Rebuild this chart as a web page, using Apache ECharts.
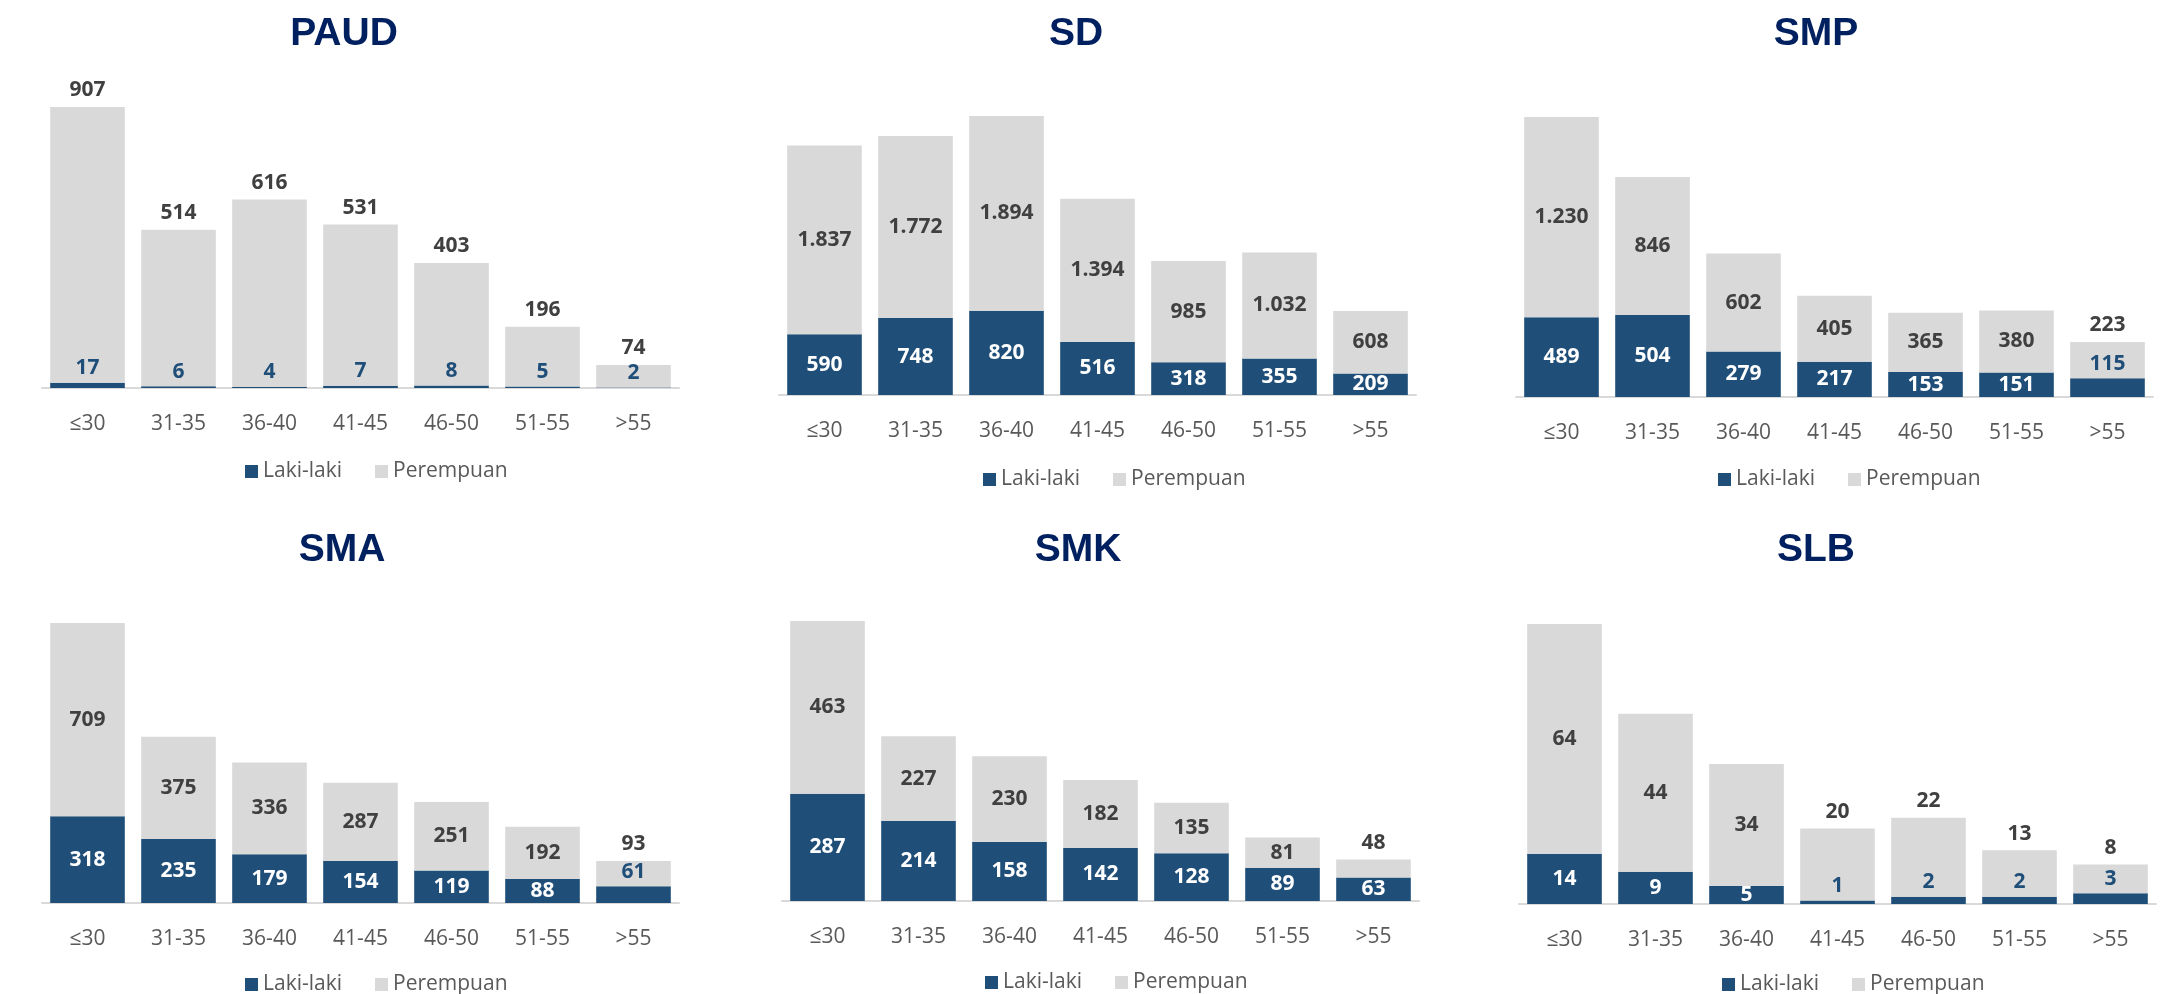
<!DOCTYPE html>
<html>
<head>
<meta charset="utf-8">
<script src="https://cdn.jsdelivr.net/npm/echarts@6/dist/echarts.min.js"></script>
<style>
  html, body { margin: 0; padding: 0; background: #fff; }
  #main { width: 2184px; height: 994px; }
</style>
</head>
<body>
<div id="main"></div>
<script>
const categories = ["≤30", "31-35", "36-40", "41-45", "46-50", "51-55", ">55"];
const seriesNames = ["Laki-laki", "Perempuan"];

const paudLaki = [17, 6, 4, 7, 8, 5, 2];
const paudPerempuan = [907, 514, 616, 531, 403, 196, 74];
const sdLaki = [590, 748, 820, 516, 318, 355, 209];
const sdPerempuan = [1837, 1772, 1894, 1394, 985, 1032, 608];
const smpLaki = [489, 504, 279, 217, 153, 151, 115];
const smpPerempuan = [1230, 846, 602, 405, 365, 380, 223];
const smaLaki = [318, 235, 179, 154, 119, 88, 61];
const smaPerempuan = [709, 375, 336, 287, 251, 192, 93];
const smkLaki = [287, 214, 158, 142, 128, 89, 63];
const smkPerempuan = [463, 227, 230, 182, 135, 81, 48];
const slbLaki = [14, 9, 5, 1, 2, 2, 3];
const slbPerempuan = [64, 44, 34, 20, 22, 13, 8];

// layout of the six panels (pixels), and which labels sit outside their bar
const panels = [
  { title: "PAUD", laki: paudLaki, per: paudPerempuan, left: 42, top: 107, bottom: 388, titleX: 339, titleY: 10, legendX: 240, legendY: 456, lakiOut: [0, 1, 2, 3, 4, 5, 6], perOut: [0, 1, 2, 3, 4, 5, 6] },
  { title: "SD", laki: sdLaki, per: sdPerempuan, left: 779, top: 116, bottom: 395, titleX: 1071, titleY: 10, legendX: 978, legendY: 464, lakiOut: [], perOut: [] },
  { title: "SMP", laki: smpLaki, per: smpPerempuan, left: 1516, top: 117, bottom: 397, titleX: 1811, titleY: 10, legendX: 1713, legendY: 464, lakiOut: [6], perOut: [6] },
  { title: "SMA", laki: smaLaki, per: smaPerempuan, left: 42, top: 623, bottom: 903, titleX: 337, titleY: 526, legendX: 240, legendY: 969, lakiOut: [6], perOut: [6] },
  { title: "SMK", laki: smkLaki, per: smkPerempuan, left: 782, top: 621, bottom: 901, titleX: 1073, titleY: 526, legendX: 980, legendY: 967, lakiOut: [], perOut: [6] },
  { title: "SLB", laki: slbLaki, per: slbPerempuan, left: 1519, top: 624, bottom: 904, titleX: 1811, titleY: 526, legendX: 1717, legendY: 969, lakiOut: [3, 4, 5, 6], perOut: [3, 4, 5, 6] },
];

const BLUE = "#1F4E79";
const GREY = "#D9D9D9";
const FONT = "'Open Sans', 'Noto Sans', sans-serif";

function fmt(v) {
  return String(v).replace(/\B(?=(\d{3})+(?!\d))/g, ".");
}

const option = {
  backgroundColor: "#fff",
  animation: false,
  title: [],
  legend: [],
  grid: [],
  xAxis: [],
  yAxis: [],
  series: [],
};

panels.forEach((p, k) => {
  const maxTotal = Math.max(...p.laki.map((v, i) => v + p.per[i]));
  option.title.push({
    text: p.title,
    left: p.titleX,
    top: p.titleY,
    textAlign: "center",
    textStyle: { fontFamily: "'Liberation Sans', Arial, sans-serif", fontSize: 39, fontWeight: "bold", color: "#002060" },
  });
  option.legend.push({
    data: seriesNames,
    left: p.legendX,
    top: p.legendY,
    itemWidth: 13,
    itemHeight: 13,
    itemGap: 33,
    icon: "rect",
    textStyle: { fontFamily: FONT, fontSize: 21, color: "#595959" },
    selectedMode: false,
  });
  option.grid.push({ left: p.left, top: p.top, width: 637, height: p.bottom - p.top });
  option.xAxis.push({
    type: "category",
    gridIndex: k,
    data: categories,
    axisTick: { show: false },
    axisLine: { lineStyle: { color: GREY, width: 2 } },
    axisLabel: { margin: 26, fontFamily: FONT, fontSize: 21, color: "#595959" },
  });
  option.yAxis.push({
    type: "value",
    gridIndex: k,
    min: 0,
    max: maxTotal,
    show: false,
    splitLine: { show: false },
  });
  option.series.push({
    name: seriesNames[0],
    type: "bar",
    stack: "s" + k,
    xAxisIndex: k,
    yAxisIndex: k,
    barCategoryGap: "18%",
    itemStyle: { color: BLUE },
    label: {
      show: true,
      position: "inside",
      fontFamily: FONT,
      fontSize: 21,
      fontWeight: "bold",
      color: "#fff",
      formatter: (d) => fmt(d.value),
    },
    data: p.laki.map((v, i) =>
      p.lakiOut.includes(i)
        ? { value: v, label: { position: "top", distance: 4, color: BLUE } }
        : v
    ),
  });
  option.series.push({
    name: seriesNames[1],
    type: "bar",
    stack: "s" + k,
    xAxisIndex: k,
    yAxisIndex: k,
    barCategoryGap: "18%",
    itemStyle: { color: GREY },
    label: {
      show: true,
      position: "inside",
      fontFamily: FONT,
      fontSize: 21,
      fontWeight: "bold",
      color: "#404040",
      formatter: (d) => fmt(d.value),
    },
    data: p.per.map((v, i) =>
      p.perOut.includes(i)
        ? { value: v, label: { position: "top", distance: 6 } }
        : v
    ),
  });
});

const myChart = echarts.init(document.getElementById("main"));
myChart.setOption(option);
</script>
</body>
</html>
